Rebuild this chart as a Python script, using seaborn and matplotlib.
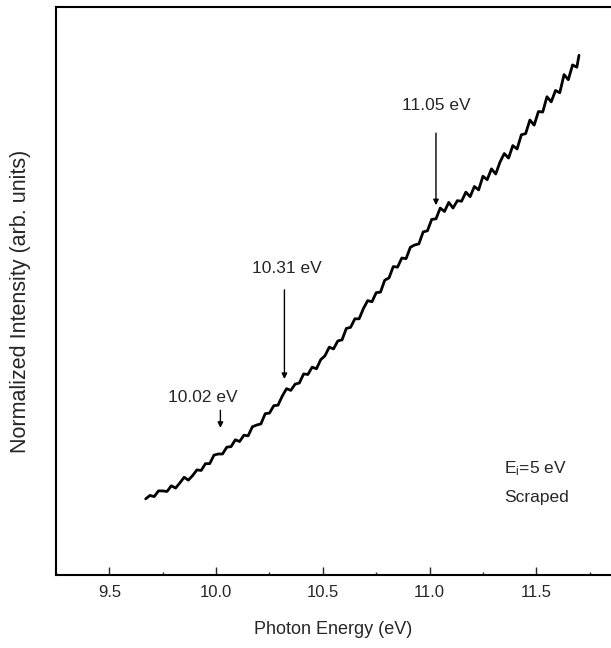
import numpy as np
import pandas as pd
import matplotlib
matplotlib.use("Agg")
import matplotlib.pyplot as plt
from matplotlib.ticker import MultipleLocator, FormatStrFormatter
import seaborn as sns

# Photon energy (eV) and normalized intensity
energy = [9.67, 9.69, 9.71, 9.73, 9.75, 9.77, 9.79, 9.81, 9.83, 9.85,
          9.87, 9.89, 9.91, 9.93, 9.95, 9.97, 9.99, 10.01, 10.03, 10.05,
          10.07, 10.09, 10.11, 10.13, 10.15, 10.17, 10.19, 10.21, 10.23, 10.25,
          10.27, 10.29, 10.31, 10.33, 10.35, 10.37, 10.39, 10.41, 10.43, 10.45,
          10.47, 10.49, 10.51, 10.53, 10.55, 10.57, 10.59, 10.61, 10.63, 10.65,
          10.67, 10.69, 10.71, 10.73, 10.75, 10.77, 10.79, 10.81, 10.83, 10.85,
          10.87, 10.89, 10.91, 10.93, 10.95, 10.97, 10.99, 11.01, 11.03, 11.05,
          11.07, 11.09, 11.11, 11.13, 11.15, 11.17, 11.19, 11.21, 11.23, 11.25,
          11.27, 11.29, 11.31, 11.33, 11.35, 11.37, 11.39, 11.41, 11.43, 11.45,
          11.47, 11.49, 11.51, 11.53, 11.55, 11.57, 11.59, 11.61, 11.63, 11.65,
          11.67, 11.69, 11.70]
intensity = [0.134, 0.140, 0.138, 0.148, 0.148, 0.147, 0.157, 0.153, 0.162, 0.172,
             0.167, 0.175, 0.185, 0.184, 0.196, 0.196, 0.211, 0.213, 0.213, 0.225,
             0.226, 0.238, 0.235, 0.246, 0.245, 0.261, 0.264, 0.266, 0.284, 0.285,
             0.298, 0.299, 0.315, 0.328, 0.325, 0.336, 0.338, 0.354, 0.353, 0.366,
             0.363, 0.379, 0.386, 0.401, 0.398, 0.412, 0.414, 0.434, 0.436, 0.451,
             0.451, 0.469, 0.483, 0.481, 0.497, 0.498, 0.519, 0.523, 0.543, 0.542,
             0.558, 0.557, 0.577, 0.581, 0.583, 0.604, 0.606, 0.626, 0.627, 0.646,
             0.640, 0.656, 0.646, 0.659, 0.658, 0.674, 0.666, 0.684, 0.678, 0.702,
             0.696, 0.715, 0.706, 0.727, 0.742, 0.734, 0.756, 0.750, 0.775, 0.777,
             0.801, 0.792, 0.816, 0.815, 0.842, 0.833, 0.853, 0.849, 0.881, 0.872,
             0.898, 0.894, 0.915]

# Marked features: label, arrow energy, arrow top, arrow tip, text position
peak_labels = ["10.02 eV", "10.31 eV", "11.05 eV"]
peak_energy = [10.02, 10.32, 11.03]
arrow_top = [0.290, 0.502, 0.778]
arrow_tip = [0.259, 0.345, 0.651]
text_x = [9.94, 10.33, 11.03]
text_y = [0.312, 0.540, 0.826]

df = pd.DataFrame({"Energy": energy, "Intensity": intensity})

sns.set_style("white")
plt.rcParams["font.family"] = ["Liberation Sans", "DejaVu Sans"]
plt.rcParams["mathtext.default"] = "regular"

fig = plt.figure(figsize=(6.11, 6.48), dpi=100)
ax = fig.add_axes([0.0917, 0.1127, 0.9083, 0.8765])

sns.lineplot(data=df, x="Energy", y="Intensity", color="black", linewidth=2.0, ax=ax)

for lab, e, top, tip, tx, ty in zip(peak_labels, peak_energy, arrow_top, arrow_tip, text_x, text_y):
    ax.annotate("", xy=(e, tip), xytext=(e, top),
                arrowprops=dict(arrowstyle="-|>", color="black", lw=1.0,
                                mutation_scale=8, shrinkA=0, shrinkB=0))
    ax.text(tx, ty, lab, ha="center", va="center", fontsize=12.5)

ax.text(11.35, 0.188, "E$_i$=5 eV", ha="left", va="center", fontsize=12.5)
ax.text(11.35, 0.136, "Scraped", ha="left", va="center", fontsize=12.5)

ax.set_xlim(9.25, 11.85)
ax.set_ylim(0, 1)
ax.xaxis.set_major_locator(MultipleLocator(0.5))
ax.xaxis.set_minor_locator(MultipleLocator(0.25))
ax.xaxis.set_major_formatter(FormatStrFormatter("%.1f"))
ax.tick_params(axis="x", which="major", direction="in", length=6, width=1,
               labelsize=12, pad=7, bottom=True)
ax.tick_params(axis="x", which="minor", direction="in", length=2.5, width=1, bottom=True)
ax.set_yticks([])

for side in ["left", "top", "bottom"]:
    ax.spines[side].set_color("black")
    ax.spines[side].set_linewidth(1.5)
ax.spines["right"].set_visible(False)

ax.set_xlabel("Photon Energy (eV)", fontsize=13, labelpad=15)
ax.set_ylabel("Normalized Intensity (arb. units)", fontsize=15.5)
ax.yaxis.set_label_coords(-0.045, 0.482)

fig.savefig("out.png", dpi=100)
